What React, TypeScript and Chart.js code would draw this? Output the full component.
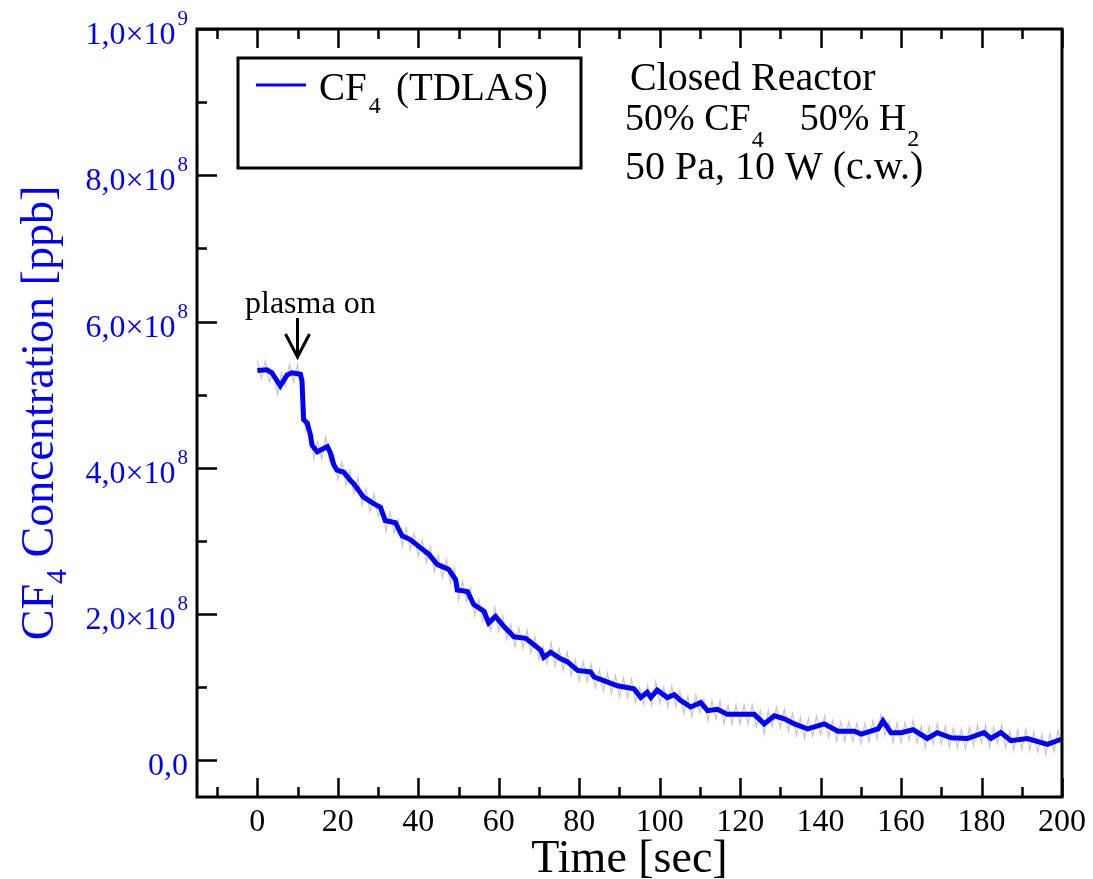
import React, { useEffect, useRef } from 'react';
import { Chart, registerables } from 'chart.js';

Chart.register(...registerables);

// Concentration values are given in units of 1e8 ppb
const UNIT = 1e8;

// Smoothed CF4 (TDLAS) trace: time [sec] and concentration [1e8 ppb]
const blueTime = [0, 2.4, 3.6, 5.7, 7.4, 8.6, 10.7, 11.1, 11.5, 12.4, 13.2, 13.6, 14.9, 17.4, 18.2, 19, 19.8, 21.5, 23.1, 24, 26.4, 28.9, 30.6, 31.8, 34.3, 36, 38, 40.5, 42.6, 44.7, 47.6, 49.3, 49.7, 52.2, 53.8, 56.3, 57.5, 59.2, 61.3, 63.8, 66.7, 67.9, 70.4, 71.2, 72.9, 75.4, 77, 79.6, 82.8, 83.7, 86.1, 89.5, 93.6, 95.3, 96.9, 97.8, 99.4, 101.9, 103.6, 105.2, 107.7, 110.2, 111.9, 114.4, 116.8, 118.5, 123.5, 126, 128.5, 131, 133.5, 136.8, 140.9, 144.3, 148.4, 150.1, 154.3, 155.5, 157.5, 160, 163, 166.5, 169, 172.4, 176.5, 180.6, 182.3, 184.8, 187.3, 191.4, 196.4, 199.8];
const blueConc = [5.33, 5.34, 5.30, 5.12, 5.27, 5.30, 5.28, 5.19, 4.66, 4.61, 4.45, 4.31, 4.22, 4.29, 4.20, 4.04, 3.97, 3.94, 3.83, 3.78, 3.60, 3.51, 3.46, 3.28, 3.25, 3.07, 3.02, 2.91, 2.82, 2.68, 2.61, 2.47, 2.33, 2.31, 2.13, 2.04, 1.88, 1.97, 1.83, 1.69, 1.67, 1.62, 1.51, 1.41, 1.48, 1.39, 1.35, 1.23, 1.21, 1.14, 1.09, 1.02, 0.98, 0.86, 0.93, 0.86, 0.96, 0.86, 0.90, 0.82, 0.73, 0.79, 0.68, 0.70, 0.63, 0.63, 0.63, 0.50, 0.61, 0.57, 0.50, 0.43, 0.50, 0.40, 0.40, 0.36, 0.43, 0.54, 0.38, 0.38, 0.42, 0.30, 0.38, 0.31, 0.30, 0.38, 0.30, 0.38, 0.27, 0.30, 0.22, 0.29];

// Raw (noisy) trace, one sample per second from t = 0 to 200 s [1e8 ppb]
const rawConc = [
  5.47, 5.22, 5.46, 5.17, 5.33, 5.00, 5.30, 5.12, 5.42, 5.17,
  5.41, 5.05, 4.50, 4.64, 4.13, 4.36, 4.12, 4.42, 4.08, 4.18,
  3.84, 4.08, 3.76, 3.96, 3.64, 3.87, 3.49, 3.71, 3.40, 3.64,
  3.34, 3.45, 3.13, 3.40, 3.11, 3.29, 2.93, 3.18, 2.88, 3.10,
  2.79, 3.01, 2.70, 2.92, 2.58, 2.80, 2.50, 2.75, 2.43, 2.63,
  2.19, 2.45, 2.17, 2.35, 1.98, 2.21, 1.90, 2.05, 1.77, 2.10,
  1.76, 1.97, 1.65, 1.86, 1.55, 1.81, 1.53, 1.79, 1.47, 1.69,
  1.38, 1.56, 1.32, 1.61, 1.29, 1.53, 1.23, 1.48, 1.16, 1.38,
  1.09, 1.35, 1.07, 1.32, 0.99, 1.24, 0.95, 1.20, 0.91, 1.16,
  0.87, 1.13, 0.85, 1.11, 0.79, 1.00, 0.76, 1.03, 0.75, 1.08,
  0.78, 1.01, 0.73, 1.02, 0.73, 0.95, 0.64, 0.88, 0.60, 0.90,
  0.65, 0.84, 0.54, 0.82, 0.56, 0.81, 0.50, 0.76, 0.49, 0.76,
  0.49, 0.76, 0.49, 0.76, 0.46, 0.68, 0.36, 0.68, 0.46, 0.73,
  0.44, 0.70, 0.40, 0.64, 0.34, 0.59, 0.30, 0.58, 0.33, 0.61,
  0.35, 0.61, 0.31, 0.55, 0.26, 0.53, 0.26, 0.53, 0.26, 0.51,
  0.22, 0.51, 0.26, 0.54, 0.29, 0.63, 0.34, 0.53, 0.24, 0.51,
  0.24, 0.52, 0.27, 0.55, 0.24, 0.47, 0.17, 0.46, 0.22, 0.51,
  0.22, 0.47, 0.18, 0.44, 0.17, 0.43, 0.16, 0.45, 0.20, 0.49,
  0.24, 0.49, 0.17, 0.46, 0.23, 0.49, 0.17, 0.40, 0.14, 0.42,
  0.15, 0.43, 0.14, 0.39, 0.11, 0.36, 0.08, 0.37, 0.12, 0.41,
  0.16,
];

// Axis ticks
const xMajorTicks = [0, 20, 40, 60, 80, 100, 120, 140, 160, 180, 200];
const xMinorTicks = [-10, 10, 30, 50, 70, 90, 110, 130, 150, 170, 190];
const xTickLabels = ['0', '20', '40', '60', '80', '100', '120', '140', '160', '180', '200'];
const yMajorTicks = [0, 2e8, 4e8, 6e8, 8e8, 1e9];
const yMinorTicks = [1e8, 3e8, 5e8, 7e8, 9e8];
const yTickMantissa = ['0,0', '2,0', '4,0', '6,0', '8,0', '1,0'];
const yTickExponent = ['', '8', '8', '8', '8', '9'];

const X_MIN = -15;
const X_MAX = 200;
const Y_MIN = -5e7;
const Y_MAX = 1e9;

const PLASMA_ON_TIME = 10;

const SERIF = '"Liberation Serif", "DejaVu Serif", serif';
const BLUE = '#0000ff';

function drawRuns(ctx: CanvasRenderingContext2D, x0: number, y0: number, runs: { t: string; f: string; dy: number; gap?: number }[]) {
  let cx = x0;
  runs.forEach((r) => {
    ctx.font = r.f;
    ctx.fillText(r.t, cx, y0 + r.dy);
    cx += ctx.measureText(r.t).width + (r.gap || 0);
  });
  return cx;
}

const decorPlugin = {
  id: 'decor',
  afterDatasetsDraw(chart: any) {
    const { ctx, chartArea: a, scales } = chart;
    const x = scales.x;
    const y = scales.y;
    ctx.save();

    // frame
    ctx.strokeStyle = '#000';
    ctx.lineWidth = 3;
    ctx.strokeRect(a.left, a.top, a.right - a.left, a.bottom - a.top);

    // ticks (inward)
    ctx.lineWidth = 2.5;
    ctx.beginPath();
    xMajorTicks.forEach((v) => {
      const px = Math.round(x.getPixelForValue(v)) + 0.5;
      ctx.moveTo(px, a.bottom); ctx.lineTo(px, a.bottom - 19);
      ctx.moveTo(px, a.top); ctx.lineTo(px, a.top + 19);
    });
    xMinorTicks.forEach((v) => {
      const px = Math.round(x.getPixelForValue(v)) + 0.5;
      ctx.moveTo(px, a.bottom); ctx.lineTo(px, a.bottom - 10);
      ctx.moveTo(px, a.top); ctx.lineTo(px, a.top + 10);
    });
    yMajorTicks.forEach((v) => {
      const py = Math.round(y.getPixelForValue(v)) + 0.5;
      ctx.moveTo(a.left, py); ctx.lineTo(a.left + 20, py);
    });
    yMinorTicks.forEach((v) => {
      const py = Math.round(y.getPixelForValue(v)) + 0.5;
      ctx.moveTo(a.left, py); ctx.lineTo(a.left + 10, py);
    });
    ctx.stroke();

    // x tick labels
    ctx.fillStyle = '#000';
    ctx.font = `32px ${SERIF}`;
    ctx.textAlign = 'center';
    ctx.textBaseline = 'alphabetic';
    xMajorTicks.forEach((v, i) => {
      ctx.fillText(xTickLabels[i], x.getPixelForValue(v), a.bottom + 34);
    });

    // y tick labels (blue, with superscript exponent)
    ctx.fillStyle = BLUE;
    const labelRight = a.left - 9;
    yMajorTicks.forEach((v, i) => {
      const py = y.getPixelForValue(v);
      const m = yTickMantissa[i];
      const e = yTickExponent[i];
      if (e) {
        ctx.font = `21px ${SERIF}`;
        const ew = ctx.measureText(e).width;
        ctx.textAlign = 'left';
        ctx.fillText(e, labelRight - ew, py - 4);
        ctx.font = `32px ${SERIF}`;
        ctx.textAlign = 'right';
        ctx.fillText(m + '\u00d710', labelRight - ew - 2, py + 15);
      } else {
        ctx.font = `32px ${SERIF}`;
        ctx.textAlign = 'right';
        ctx.fillText(m, labelRight, py + 15);
      }
    });

    // x axis title
    ctx.fillStyle = '#000';
    ctx.font = `46px ${SERIF}`;
    ctx.textAlign = 'center';
    ctx.fillText('Time [sec]', (a.left + a.right) / 2, 872);

    // y axis title (rotated, with subscript)
    ctx.save();
    ctx.translate(53, (a.top + a.bottom) / 2);
    ctx.rotate(-Math.PI / 2);
    ctx.fillStyle = BLUE;
    ctx.textAlign = 'left';
    const big = `46px ${SERIF}`;
    const sub = `30px ${SERIF}`;
    ctx.font = big;
    const w1 = ctx.measureText('CF').width;
    const w3 = ctx.measureText(' Concentration [ppb]').width;
    ctx.font = sub;
    const w2 = ctx.measureText('4').width;
    const total = w1 + w2 + w3;
    drawRuns(ctx, -total / 2, 0, [
      { t: 'CF', f: big, dy: 0 },
      { t: '4', f: sub, dy: 13 },
      { t: ' Concentration [ppb]', f: big, dy: 0 },
    ]);
    ctx.restore();

    // legend box
    ctx.fillStyle = '#fff';
    ctx.fillRect(238, 58, 343, 110);
    ctx.strokeStyle = '#000';
    ctx.lineWidth = 3;
    ctx.strokeRect(238, 58, 343, 110);
    ctx.strokeStyle = BLUE;
    ctx.lineWidth = 3;
    ctx.beginPath();
    ctx.moveTo(256, 85);
    ctx.lineTo(306, 85);
    ctx.stroke();
    ctx.fillStyle = '#000';
    ctx.textAlign = 'left';
    ctx.font = `39px ${SERIF}`;
    ctx.fillText('CF', 319, 100);
    const cfw = ctx.measureText('CF').width;
    ctx.font = `24px ${SERIF}`;
    ctx.fillText('4', 319 + cfw + 2, 113);
    ctx.font = `39px ${SERIF}`;
    ctx.fillText('(TDLAS)', 396, 100);

    // annotation text
    ctx.font = `40px ${SERIF}`;
    ctx.fillText('Closed Reactor', 630, 90);
    const f38 = `38px ${SERIF}`;
    const f24 = `24px ${SERIF}`;
    drawRuns(ctx, 625, 130, [
      { t: '50% CF', f: f38, dy: 0, gap: 1 },
      { t: '4', f: f24, dy: 17, gap: 36 },
      { t: '50% H', f: f38, dy: 0, gap: 1 },
      { t: '2', f: f24, dy: 16 },
    ]);
    ctx.font = `40px ${SERIF}`;
    ctx.fillText('50 Pa, 10 W (c.w.)', 625, 179);

    // plasma on marker
    ctx.font = `32px ${SERIF}`;
    ctx.fillText('plasma on', 245, 313);
    const ax = Math.round(x.getPixelForValue(PLASMA_ON_TIME)) - 0.5;
    ctx.strokeStyle = '#000';
    ctx.lineWidth = 3;
    ctx.beginPath();
    ctx.moveTo(ax, 318);
    ctx.lineTo(ax, 356);
    ctx.moveTo(ax - 12, 334);
    ctx.lineTo(ax, 357);
    ctx.lineTo(ax + 12, 334);
    ctx.stroke();

    ctx.restore();
  },
};

export default function App() {
  const ref = useRef<HTMLCanvasElement>(null);

  useEffect(() => {
    const canvas = ref.current;
    if (!canvas) return;
    const bluePoints = blueTime.map((t, i) => ({ x: t, y: blueConc[i] * UNIT }));
    const rawPoints = rawConc.map((c, i) => ({ x: i, y: c * UNIT }));
    const chart = new Chart(canvas, {
      type: 'line',
      data: {
        datasets: [
          {
            label: 'CF4 (TDLAS)',
            data: bluePoints,
            borderColor: BLUE,
            borderWidth: 5,
            pointRadius: 0,
            tension: 0,
            fill: false,
          },
          {
            label: 'raw',
            data: rawPoints,
            borderColor: '#c8c8c8',
            borderWidth: 1.2,
            pointRadius: 0,
            tension: 0,
            fill: false,
          },
        ],
      },
      options: {
        responsive: false,
        animation: false,
        devicePixelRatio: 1,
        layout: { padding: { left: 197, top: 29, right: 31, bottom: 82 } },
        plugins: {
          legend: { display: false },
          tooltip: { enabled: false },
          title: { display: false },
        },
        scales: {
          x: { type: 'linear', min: X_MIN, max: X_MAX, display: false },
          y: { type: 'linear', min: Y_MIN, max: Y_MAX, display: false },
        },
      },
      plugins: [decorPlugin],
    });
    return () => chart.destroy();
  }, []);

  return (
    <div style={{ position: 'fixed', left: 0, top: 0, width: 1093, height: 879, background: '#fff' }}>
      <canvas ref={ref} width={1093} height={879} style={{ display: 'block', width: 1093, height: 879 }} />
    </div>
  );
}
